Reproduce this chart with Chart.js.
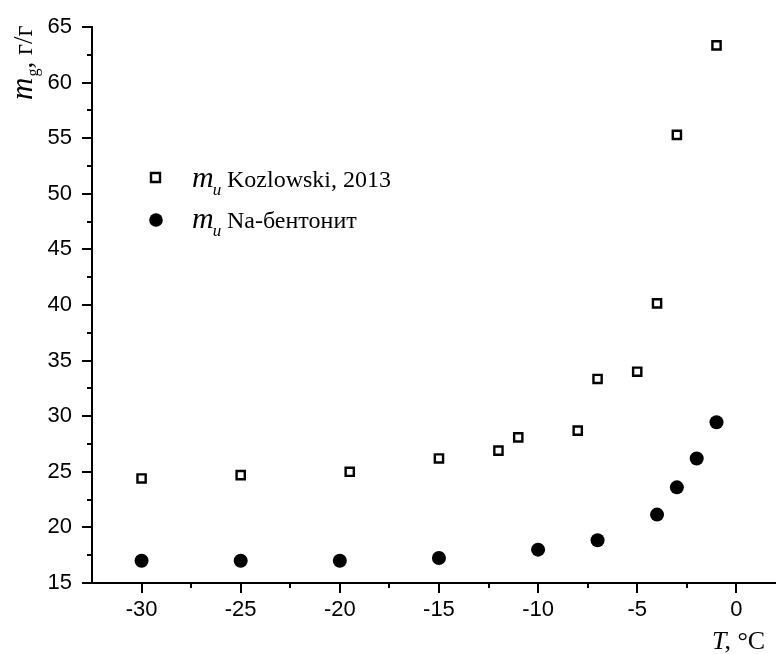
<!DOCTYPE html>
<html>
<head>
<meta charset="utf-8">
<script src="https://cdn.jsdelivr.net/npm/chart.js@4.4.1/dist/chart.umd.min.js"></script>
<style>
  html, body { margin: 0; padding: 0; background: #fff; }
  #wrap { width: 776px; height: 654px; }
</style>
</head>
<body>
<div id="wrap"><canvas id="c" width="776" height="654"></canvas></div>
<script>
// Unfrozen water content vs temperature
const kozT = [-30, -25, -19.5, -15, -12, -11, -8, -7, -5, -4, -3, -1];
const kozM = [24.4, 24.7, 25.0, 26.2, 26.9, 28.1, 28.7, 33.35, 34.0, 40.15, 55.3, 63.35];

const naT = [-30, -25, -20, -15, -10, -7, -4, -3, -2, -1];
const naM = [17.0, 17.0, 17.0, 17.25, 18.0, 18.85, 21.15, 23.6, 26.2, 29.45];

const xTicks = [-30, -25, -20, -15, -10, -5, 0];
const xMinor = [-27.5, -22.5, -17.5, -12.5, -7.5, -2.5];
const yMinor = [17.5, 22.5, 27.5, 32.5, 37.5, 42.5, 47.5, 52.5, 57.5, 62.5];

const legendNames = ['Kozlowski, 2013', 'Na-бентонит'];

const SERIF = '"Liberation Serif", "Times New Roman", serif';
const SANS = '"Liberation Sans", Arial, sans-serif';

function toPoints(xs, ys) { return xs.map((x, i) => ({ x: x, y: ys[i] })); }

// minor tick marks, axis titles and the legend
const decorations = {
  id: 'decorations',
  afterDraw(chart) {
    const ctx = chart.ctx;
    const xs = chart.scales.x, ys = chart.scales.y;
    const area = chart.chartArea;
    ctx.save();
    ctx.strokeStyle = '#000';
    ctx.lineWidth = 2;
    ctx.beginPath();
    xMinor.forEach(v => {
      const px = Math.round(xs.getPixelForValue(v));
      ctx.moveTo(px, area.bottom);
      ctx.lineTo(px, area.bottom + 5);
    });
    yMinor.forEach(v => {
      const py = Math.round(ys.getPixelForValue(v));
      ctx.moveTo(area.left, py);
      ctx.lineTo(area.left - 5, py);
    });
    ctx.stroke();

    ctx.fillStyle = '#000';
    ctx.textBaseline = 'alphabetic';
    ctx.textAlign = 'left';

    // y axis title: m_g, г/г
    ctx.save();
    ctx.translate(32, 100);
    ctx.rotate(-Math.PI / 2);
    ctx.font = 'italic 31px ' + SERIF;
    ctx.fillText('m', 0, 0);
    let w = ctx.measureText('m').width;
    ctx.font = '16px ' + SERIF;
    ctx.fillText('g', w + 1, 6);
    w += ctx.measureText('g').width + 1;
    ctx.font = '27px ' + SERIF;
    ctx.fillText(', г/г', w, 0);
    ctx.restore();

    // x axis title: T, °C
    ctx.font = 'italic 26px ' + SERIF;
    ctx.fillText('T', 712, 649);
    const tw = ctx.measureText('T').width;
    ctx.font = '26px ' + SERIF;
    ctx.fillText(', °C', 712 + tw - 2, 649);

    // legend
    const rows = [177.5, 220];
    const bases = [187, 228];
    // square marker
    ctx.lineWidth = 2.4;
    ctx.fillStyle = '#fff';
    ctx.beginPath();
    ctx.rect(151, rows[0] - 4.5, 9, 9);
    ctx.fill();
    ctx.stroke();
    // round marker
    ctx.fillStyle = '#000';
    ctx.beginPath();
    ctx.arc(156, rows[1], 6.8, 0, Math.PI * 2);
    ctx.fill();

    legendNames.forEach((name, i) => {
      const b = bases[i];
      ctx.font = 'italic 30px ' + SERIF;
      ctx.fillText('m', 192, b);
      const mw = ctx.measureText('m').width;
      ctx.font = 'italic 17px ' + SERIF;
      ctx.fillText('u', 192 + mw - 1, b + 8);
      ctx.font = '24px ' + SERIF;
      ctx.fillText(name, 227, b);
    });
    ctx.restore();
  }
};

new Chart(document.getElementById('c'), {
  type: 'scatter',
  data: {
    datasets: [
      {
        label: legendNames[0],
        data: toPoints(kozT, kozM),
        pointStyle: 'rect',
        radius: 5.8,
        borderWidth: 2.4,
        borderColor: '#000',
        backgroundColor: '#fff',
        clip: false
      },
      {
        label: legendNames[1],
        data: toPoints(naT, naM),
        pointStyle: 'circle',
        radius: 7,
        borderWidth: 0,
        borderColor: '#000',
        backgroundColor: '#000',
        clip: false
      }
    ]
  },
  options: {
    responsive: false,
    animation: false,
    layout: { autoPadding: false, padding: { top: 27, right: 0, bottom: 0, left: 0 } },
    plugins: { legend: { display: false }, tooltip: { enabled: false } },
    scales: {
      x: {
        type: 'linear',
        min: -32.5,
        max: 2,
        afterBuildTicks(s) { s.ticks = xTicks.map(v => ({ value: v })); },
        afterFit(s) { s.height = 71; s.paddingLeft = 0; s.paddingRight = 0; },
        border: { display: true, color: '#000', width: 2 },
        grid: { drawOnChartArea: false, drawTicks: true, tickLength: 10, color: '#000', lineWidth: 2 },
        ticks: { color: '#000', font: { family: SANS, size: 22 }, padding: 4, maxRotation: 0 }
      },
      y: {
        type: 'linear',
        min: 15,
        max: 65,
        ticks: { stepSize: 5, color: '#000', font: { family: SANS, size: 22 }, padding: 10 },
        afterFit(s) { s.width = 92; s.paddingTop = 0; s.paddingBottom = 0; },
        border: { display: true, color: '#000', width: 2 },
        grid: { drawOnChartArea: false, drawTicks: true, tickLength: 10, color: '#000', lineWidth: 2 }
      }
    }
  },
  plugins: [decorations]
});
</script>
</body>
</html>
